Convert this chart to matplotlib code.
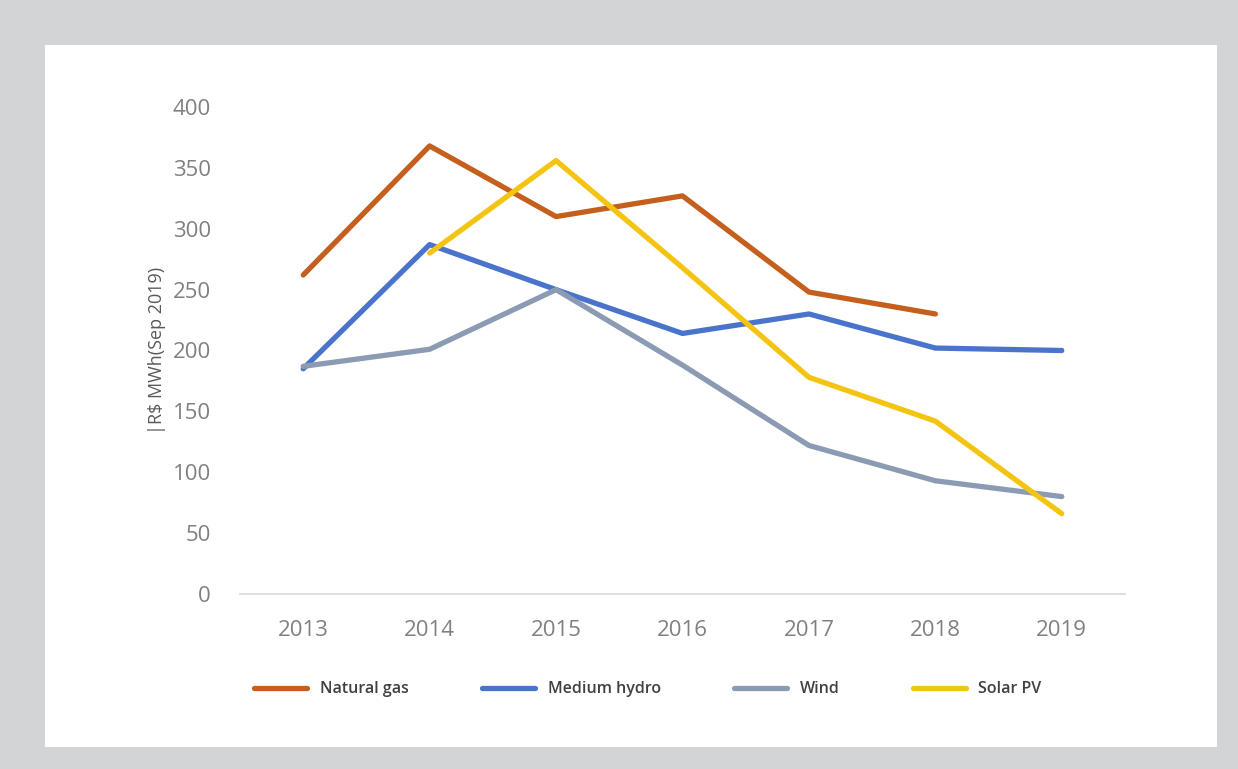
import numpy as np
import matplotlib
matplotlib.use("Agg")
from matplotlib import pyplot as plt
from matplotlib.patches import Rectangle

years = [2013, 2014, 2015, 2016, 2017, 2018, 2019]
natural_gas = [262, 368, 310, 327, 248, 230, np.nan]
medium_hydro = [185, 287, 250, 214, 230, 202, 200]
wind = [187, 201, 250, 188, 122, 93, 80]
solar_pv = [np.nan, 280, 356, 268, 178, 142, 66]

series = [
	("Natural gas", natural_gas, "#c55f1e"),
	("Medium hydro", medium_hydro, "#4a74cb"),
	("Wind", wind, "#8b9bb3"),
	("Solar PV", solar_pv, "#f4c413"),
]

plt.rcParams['font.family'] = ['Open Sans', 'DejaVu Sans']

fig = plt.figure(figsize=(12.38, 7.69), dpi=100)
fig.patch.set_facecolor("#d3d4d6")
fig.patches.append(Rectangle((45/1238, 1-747/769), (1217-45)/1238, (747-45)/769,
	transform=fig.transFigure, facecolor="white", edgecolor="none", zorder=-10))

ax = fig.add_axes([240/1238, 1-594/769, (1125-240)/1238, (594-107)/769])
ax.set_facecolor("none")
for name, vals, col in series:
	ax.plot(years, vals, color=col, lw=3.8, label=name, solid_capstyle="round")

ax.set_xlim(2012.5, 2019.5)
ax.set_ylim(0, 400)
ax.set_yticks(range(0, 401, 50))
ax.set_xticks(years)
for s in ["top", "right", "left"]:
	ax.spines[s].set_visible(False)
ax.spines["bottom"].set_color("#d9d9d9")
ax.spines["bottom"].set_linewidth(1.2)
ax.tick_params(length=0, labelsize=16, labelcolor="#808080")
ax.tick_params(axis="x", pad=19)
ax.tick_params(axis="y", pad=21)
ax.set_ylabel("|R$ MWh(Sep 2019)", fontsize=13, color="#595959", labelpad=5)

leg = ax.legend(loc="upper left", bbox_to_anchor=(0.0, -0.15), ncol=4, frameon=False,
	handlelength=3.3, columnspacing=4.6, handletextpad=0.8, prop={"size": 11.5, "weight": "semibold"})
for t in leg.get_texts():
	t.set_color("#404040")

fig.savefig("out.png", dpi=100, facecolor=fig.get_facecolor())
